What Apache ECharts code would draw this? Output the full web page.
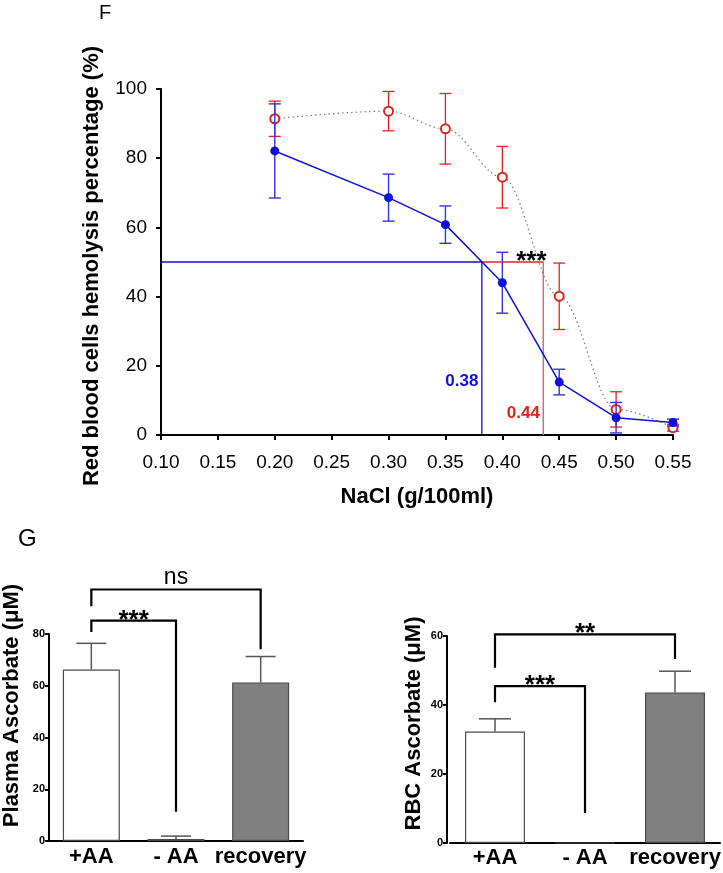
<!DOCTYPE html>
<html><head><meta charset="utf-8">
<script src="https://cdn.jsdelivr.net/npm/echarts@6/dist/echarts.min.js"></script>
<style>html,body{margin:0;padding:0;background:#fff}#c{width:723px;height:873px}</style>
</head><body><div id="c"></div>
<script>
// ---- data ----
const nacl = [0.20, 0.30, 0.35, 0.40, 0.45, 0.50, 0.55];
const ctrlMean = [82.1, 68.6, 60.8, 44.0, 15.3, 5.0, 3.6];
const ctrlErr  = [13.6, 6.8, 5.4, 8.8, 3.7, 4.4, 1.0];
const defMean  = [91.4, 93.6, 88.5, 74.5, 40.1, 7.4, 2.1];
const defErr   = [5.1, 5.7, 10.2, 8.9, 9.6, 5.1, 1.0];
const halfLevel = 50;
const ctrlHalf = 0.382;
const defHalf = 0.436;
const ctrlHalfLabel = '0.38';
const defHalfLabel = '0.44';
const groups = ['+AA', '- AA', 'recovery'];
const plasmaMean = [66.3, 0.8, 61.3];
const plasmaErr  = [10.1, 1.1, 10.0];
const rbcMean = [32.3, 0, 43.6];
const rbcErr  = [3.7, 0, 6.2];
const plasmaSig = ['***', 'ns'];
const rbcSig = ['***', '**'];

const FF = "'Liberation Sans', Arial, sans-serif";
const FN = "'Liberation Sans Narrow', 'Liberation Sans', Arial, sans-serif";
const BLUE = '#1010dc', BLUE_E = '#3434d8', RED = '#e62020', RED_V = '#c87272';

const pts = (ys) => ys.map((v, i) => [nacl[i], v]);
const errData = (m, e) => m.map((v, i) => [nacl[i], v, e[i]]);

function errBars(color, half, lw) {
  return function (params, api) {
    const x = api.value(0), m = api.value(1), e = api.value(2);
    const hi = api.coord([x, m + e]), lo = api.coord([x, m - e]);
    const st = { stroke: color, lineWidth: lw };
    return { type: 'group', children: [
      { type: 'line', shape: { x1: hi[0], y1: hi[1], x2: lo[0], y2: lo[1] }, style: st },
      { type: 'line', shape: { x1: hi[0] - half, y1: hi[1], x2: hi[0] + half, y2: hi[1] }, style: st },
      { type: 'line', shape: { x1: lo[0] - half, y1: lo[1], x2: lo[0] + half, y2: lo[1] }, style: st }
    ]};
  };
}
function upErr(half) {
  return function (params, api) {
    const i = api.value(0), m = api.value(1), e = api.value(2);
    if (!e) return null;
    const b = api.coord([i, m]), t = api.coord([i, m + e]);
    const st = { stroke: '#555', lineWidth: 1.5 };
    return { type: 'group', children: [
      { type: 'line', shape: { x1: b[0], y1: b[1], x2: t[0], y2: t[1] }, style: st },
      { type: 'line', shape: { x1: t[0] - half, y1: t[1], x2: t[0] + half, y2: t[1] }, style: st }
    ]};
  };
}
function bracket(labels) {
  return function (params, api) {
    const a = api.value(0), b = api.value(1), yl = api.value(2), ya = api.value(3), yb = api.value(4);
    const p1 = api.coord([a, ya]), p2 = api.coord([a, yl]), p3 = api.coord([b, yl]), p4 = api.coord([b, yb]);
    const lab = labels[params.dataIndex];
    const star = lab.indexOf('*') >= 0;
    return { type: 'group', children: [
      { type: 'polyline', shape: { points: [p1, p2, p3, p4] }, style: { stroke: '#000', lineWidth: 2.2, fill: null } },
      { type: 'text', x: (p2[0] + p3[0]) / 2, y: p2[1] + (star ? 13 : 0),
        style: { text: lab, align: 'center', verticalAlign: 'bottom', fill: '#000',
          font: star ? 'bold 26px ' + FF : '23px ' + FF } }
    ]};
  };
}

const chart = echarts.init(document.getElementById('c'), null, { renderer: 'canvas' });
const axBlack = { color: '#000', width: 2 };

const option = {
  backgroundColor: '#fff',
  animation: false,
  title: [
    { text: 'F', left: 99, top: 3, padding: 0, textStyle: { fontSize: 20, fontWeight: 'normal', color: '#000', fontFamily: FF } },
    { text: 'G', left: 18, top: 527, padding: 0, textStyle: { fontSize: 24, fontWeight: 'normal', color: '#000', fontFamily: FF } }
  ],
  grid: [
    { left: 161, top: 89, width: 512, height: 346, outerBoundsMode: 'none' },
    { left: 49, top: 634, width: 254, height: 207, outerBoundsMode: 'none' },
    { left: 450, top: 636, width: 270, height: 207, outerBoundsMode: 'none' }
  ],
  xAxis: [
    { gridIndex: 0, type: 'value', min: 0.1, max: 0.55, interval: 0.05,
      axisLine: { show: true, onZero: false, lineStyle: axBlack },
      axisTick: { show: true, length: 5, lineStyle: axBlack },
      axisLabel: { formatter: v => v.toFixed(2), fontSize: 19, color: '#000', margin: 18, fontFamily: FF },
      splitLine: { show: false },
      name: 'NaCl (g/100ml)', nameLocation: 'middle', nameGap: 51, nameMoveOverlap: false,
      nameTextStyle: { fontWeight: 'bold', fontSize: 22, color: '#000', fontFamily: FF } },
    { gridIndex: 1, type: 'category', data: groups,
      axisLine: { show: true, onZero: false, lineStyle: axBlack }, axisTick: { show: false },
      axisLabel: { fontSize: 22, fontWeight: 'bold', color: '#000', margin: 5, fontFamily: FF, interval: 0 } },
    { gridIndex: 2, type: 'category', data: groups,
      axisLine: { show: true, onZero: false, lineStyle: axBlack }, axisTick: { show: false },
      axisLabel: { fontSize: 22, fontWeight: 'bold', color: '#000', margin: 4, fontFamily: FF, interval: 0 } }
  ],
  yAxis: [
    { gridIndex: 0, type: 'value', min: 0, max: 100, interval: 20,
      axisLine: { show: true, lineStyle: axBlack },
      axisTick: { show: true, length: 5, lineStyle: axBlack },
      axisLabel: { fontSize: 19, color: '#000', margin: 14, fontFamily: FF },
      splitLine: { show: false },
      name: 'Red blood cells hemolysis percentage (%)', nameLocation: 'middle', nameGap: 58, nameMoveOverlap: false,
      nameTextStyle: { fontWeight: 'bold', fontSize: 22, color: '#000', fontFamily: FF, padding: [0, 8, 0, 0] } },
    { gridIndex: 1, type: 'value', min: 0, max: 80, interval: 20,
      axisLine: { show: true, lineStyle: axBlack },
      axisTick: { show: true, length: 4, lineStyle: axBlack },
      axisLabel: { fontSize: 11, fontWeight: 'bold', color: '#000', margin: 4, fontFamily: FN },
      splitLine: { show: false },
      name: 'Plasma Ascorbate (\u03bcM)', nameLocation: 'middle', nameGap: 26, nameMoveOverlap: false,
      nameTextStyle: { fontWeight: 'bold', fontSize: 22, color: '#000', fontFamily: FF, padding: [0, 0, 0, 64] } },
    { gridIndex: 2, type: 'value', min: 0, max: 60, interval: 20, offset: 3,
      axisLine: { show: true, lineStyle: axBlack },
      axisTick: { show: true, length: 4, lineStyle: axBlack },
      axisLabel: { fontSize: 11, fontWeight: 'bold', color: '#000', margin: 4, fontFamily: FN },
      splitLine: { show: false },
      name: 'RBC Ascorbate (\u03bcM)', nameLocation: 'middle', nameGap: 22, nameMoveOverlap: false,
      nameTextStyle: { fontWeight: 'bold', fontSize: 22, color: '#000', fontFamily: FF, padding: [0, 0, 0, 32] } }
  ],
  series: [
    // reference lines at 50%
    { type: 'line', xAxisIndex: 0, yAxisIndex: 0, symbol: 'none', silent: true, z: 1,
      data: [[0.1, halfLevel], [ctrlHalf, halfLevel], [ctrlHalf, 0]], lineStyle: { color: BLUE, width: 1.3 } },
    { type: 'line', xAxisIndex: 0, yAxisIndex: 0, symbol: 'none', silent: true, z: 1,
      data: [[ctrlHalf, halfLevel], [defHalf, halfLevel]], lineStyle: { color: RED, width: 1.3 } },
    { type: 'line', xAxisIndex: 0, yAxisIndex: 0, symbol: 'none', silent: true, z: 1,
      data: [[defHalf, halfLevel], [defHalf, 0]], lineStyle: { color: RED_V, width: 1.5 } },
    // deficient (red, dotted)
    { type: 'custom', xAxisIndex: 0, yAxisIndex: 0, renderItem: errBars(RED, 6, 1.3), data: errData(defMean, defErr), encode: { x: 0, y: 1 }, z: 2 },
    { type: 'line', xAxisIndex: 0, yAxisIndex: 0, data: pts(defMean), smooth: 0.35, smoothMonotone: 'x',
      symbol: 'emptyCircle', symbolSize: 9, z: 3,
      lineStyle: { color: '#7a7a7a', width: 1.2, type: [1.5, 3] },
      itemStyle: { color: RED, borderColor: RED, borderWidth: 1.3 } },
    // control (blue, solid)
    { type: 'custom', xAxisIndex: 0, yAxisIndex: 0, renderItem: errBars(BLUE_E, 6, 1.4), data: errData(ctrlMean, ctrlErr), encode: { x: 0, y: 1 }, z: 4 },
    { type: 'line', xAxisIndex: 0, yAxisIndex: 0, data: pts(ctrlMean), symbol: 'circle', symbolSize: 9, z: 5,
      lineStyle: { color: BLUE, width: 1.5 }, itemStyle: { color: BLUE } },
    // annotations
    { type: 'custom', xAxisIndex: 0, yAxisIndex: 0, z: 6, silent: true,
      data: [[ctrlHalf - 0.003, 15.5], [defHalf - 0.003, 6.2], [0.4255, halfLevel]],
      renderItem: function (params, api) {
        const p = api.coord([api.value(0), api.value(1)]);
        const i = params.dataIndex;
        if (i === 2) return { type: 'text', x: p[0], y: p[1] + 13, style: { text: '***', align: 'center', verticalAlign: 'bottom', fill: '#000', font: 'bold 26px ' + FF } };
        return { type: 'text', x: p[0], y: p[1], style: { text: i === 0 ? ctrlHalfLabel : defHalfLabel, align: 'right', verticalAlign: 'middle',
          fill: i === 0 ? BLUE : RED, font: 'bold 17px ' + FF } };
      } },
    // plasma
    { type: 'bar', xAxisIndex: 1, yAxisIndex: 1, barWidth: 57, z: 2,
      data: plasmaMean.map((v, i) => ({ value: v, itemStyle: { color: i === 2 ? '#808080' : '#fff' } })),
      itemStyle: { borderColor: '#4a4a4a', borderWidth: 1.2 } },
    { type: 'custom', xAxisIndex: 1, yAxisIndex: 1, renderItem: upErr(15), data: plasmaMean.map((v, i) => [i, v, plasmaErr[i]]), encode: { x: 0, y: 1 }, z: 3 },
    { type: 'custom', xAxisIndex: 1, yAxisIndex: 1, clip: false, renderItem: bracket(plasmaSig), z: 4,
      data: [[0, 1, 85.2, 80.8, 11.3], [0, 2, 97.2, 90.7, 74.1]], encode: { x: 0, y: 2 } },
    // rbc
    { type: 'bar', xAxisIndex: 2, yAxisIndex: 2, barWidth: 60, z: 2,
      data: rbcMean.map((v, i) => ({ value: v, itemStyle: { color: i === 2 ? '#808080' : '#fff' } })),
      itemStyle: { borderColor: '#4a4a4a', borderWidth: 1.2 } },
    { type: 'custom', xAxisIndex: 2, yAxisIndex: 2, renderItem: upErr(16), data: rbcMean.map((v, i) => [i, v, rbcErr[i]]), encode: { x: 0, y: 1 }, z: 3 },
    { type: 'custom', xAxisIndex: 2, yAxisIndex: 2, clip: false, renderItem: bracket(rbcSig), z: 4,
      data: [[0, 1, 45.5, 40.8, 8.7], [0, 2, 60.5, 50.8, 53.3]], encode: { x: 0, y: 2 } }
  ]
};
chart.setOption(option);
</script></body></html>
